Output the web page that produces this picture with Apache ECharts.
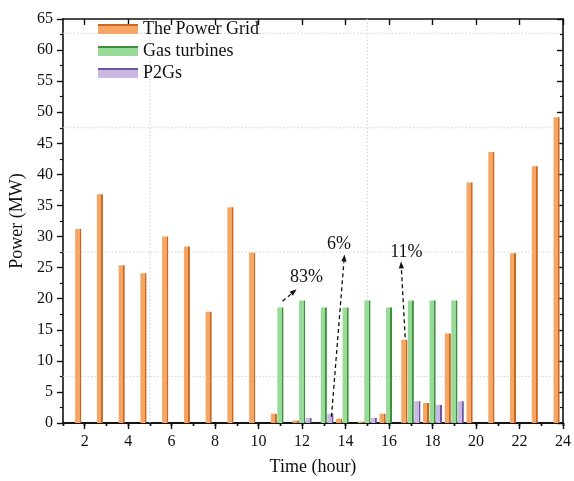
<!DOCTYPE html>
<html>
<head>
<meta charset="utf-8">
<script src="https://cdn.jsdelivr.net/npm/echarts@6/dist/echarts.min.js"></script>
<style>
  html, body { margin: 0; padding: 0; background: #fff; }
  #chart { width: 574px; height: 481px; }
</style>
</head>
<body>
<div id="chart"></div>
<script>
// Hourly dispatch data (MW)
const hours = ['1','2','3','4','5','6','7','8','9','10','11','12','13','14','15','16','17','18','19','20','21','22','23','24'];
const powerGrid = [null, 31.2, 36.8, 25.4, 24.1, 30.0, 28.4, 17.9, 34.7, 27.4, 1.5, 0.4, 0, 0.7, 0.2, 1.5, 13.4, 3.2, 14.4, 38.7, 43.6, 27.3, 41.3, 49.2];
const gasTurbines = [0, 0, 0, 0, 0, 0, 0, 0, 0, 0, 18.6, 19.7, 18.6, 18.6, 19.7, 18.6, 19.7, 19.7, 19.7, 0, 0, 0, 0, 0];
const p2gs = [0, 0, 0, 0, 0, 0, 0, 0, 0, 0, 0, 0.8, 1.5, 0, 0.8, 0, 3.5, 2.9, 3.5, 0, 0, 0, 0, 0];
const seriesNames = ['The Power Grid', 'Gas turbines', 'P2Gs'];
const yTicks = [0, 65, 5];          // min, max, step
const shareLabels = ['83%', '6%', '11%'];

// Placement of the share call-outs, in (hour, MW)
const callouts = [
  { text: [12.2, 23.4], from: [11.1, 19.6], to: [11.75, 21.5] },
  { text: [13.7, 28.7], from: [13.35, 1.0], to: [13.95, 27.1] },
  { text: [16.8, 27.4], from: [16.74, 13.8], to: [16.55, 26.0] }
];
const guideX = [5, 15];
const guideY = [7.5, 27.5, 47.5, 62.7];

const serif = 'Liberation Serif, Times New Roman, serif';
const palette = [
  { light: '#F6A664', dark: '#CC661E' },
  { light: '#98DA98', dark: '#3E8E3E' },
  { light: '#C8B8E2', dark: '#6C55A0' }
];

function barFill(p) {
  return new echarts.graphic.LinearGradient(0, 0, 1, 0, [
    { offset: 0, color: p.light }, { offset: 0.74, color: p.light },
    { offset: 0.74, color: p.dark }, { offset: 1, color: p.dark }
  ]);
}
function swatchFill(p) {
  return new echarts.graphic.LinearGradient(0, 0, 0, 1, [
    { offset: 0, color: p.dark }, { offset: 0.18, color: p.dark },
    { offset: 0.18, color: p.light }, { offset: 1, color: p.light }
  ]);
}

const chart = echarts.init(document.getElementById('chart'), null, { renderer: 'canvas' });

const axisLine = { show: true, lineStyle: { color: '#111', width: 1.6 } };
const isEven = (i, v) => Number(v) % 2 === 0;
const all = () => true;

function catAxis(position, tickFilter, len, inside, labels, extra) {
  return Object.assign({
    type: 'category', data: hours, boundaryGap: false, position: position,
    axisLine: axisLine,
    axisTick: { show: true, interval: tickFilter, length: len, inside: inside, lineStyle: { color: '#111', width: 1.4 } },
    axisLabel: labels ? { show: true, interval: isEven, margin: 11, fontFamily: serif, fontSize: 16, color: '#111' } : { show: false },
    splitLine: { show: false }
  }, extra || {});
}

const option = {
  animation: false,
  backgroundColor: '#fff',
  grid: { left: 62, right: 9, top: 19, bottom: 57, containLabel: false },
  legend: {
    orient: 'vertical', left: 98, top: 20, padding: 0,
    itemWidth: 40, itemHeight: 10, itemGap: 4,
    textStyle: { fontFamily: serif, fontSize: 18, color: '#111' },
    data: seriesNames.map((n, i) => ({ name: n, icon: 'rect', itemStyle: { color: swatchFill(palette[i]) } }))
  },
  xAxis: [
    catAxis('bottom', all, 3, false, true, {
      name: 'Time (hour)', nameLocation: 'middle', nameGap: 35,
      nameTextStyle: { fontFamily: serif, fontSize: 18, color: '#111' }
    }),
    catAxis('top', all, 3, true, false),
    catAxis('bottom', isEven, 6, false, false),
    catAxis('top', isEven, 6, true, false),
    { type: 'value', min: 1, max: 24, show: false }
  ],
  yAxis: [
    {
      type: 'value', min: yTicks[0], max: yTicks[1], interval: yTicks[2], position: 'left',
      name: 'Power (MW)', nameLocation: 'middle', nameGap: 21,
      nameTextStyle: { fontFamily: serif, fontSize: 18, color: '#111' },
      axisLine: axisLine,
      axisTick: { show: true, length: 6, inside: false, lineStyle: { color: '#111', width: 1.4 } },
      minorTick: { show: true, splitNumber: 2, length: 3, lineStyle: { color: '#111', width: 1.2 } },
      axisLabel: { margin: 10, fontFamily: serif, fontSize: 16, color: '#111' },
      splitLine: { show: false }
    },
    {
      type: 'value', min: yTicks[0], max: yTicks[1], interval: yTicks[2], position: 'right',
      axisLine: axisLine,
      axisTick: { show: true, length: 6, inside: true, lineStyle: { color: '#111', width: 1.4 } },
      minorTick: { show: true, splitNumber: 2, length: 3, lineStyle: { color: '#111', width: 1.2 } },
      axisLabel: { show: false },
      splitLine: { show: false }
    }
  ],
  series: [powerGrid, gasTurbines, p2gs].map((d, i) => ({
    name: seriesNames[i], type: 'bar', data: d,
    xAxisIndex: 0, yAxisIndex: 0,
    barWidth: 6, barGap: '8%',
    itemStyle: { color: barFill(palette[i]) },
    z: 3
  }))
};

chart.setOption(option);

// Dotted guide lines and share call-outs, placed through the axes
const toPx = (p) => chart.convertToPixel({ xAxisIndex: 4, yAxisIndex: 0 }, p);
const graphics = [];
const guideStyle = { stroke: '#cfcfcf', lineWidth: 1, lineDash: [1.5, 2] };
guideX.forEach((x) => {
  const a = toPx([x, yTicks[0]]), b = toPx([x, yTicks[1]]);
  graphics.push({ type: 'line', z: 1, silent: true, shape: { x1: a[0], y1: a[1], x2: b[0], y2: b[1] }, style: guideStyle });
});
guideY.forEach((y) => {
  const a = toPx([1, y]), b = toPx([24, y]);
  graphics.push({ type: 'line', z: 1, silent: true, shape: { x1: a[0], y1: a[1], x2: b[0], y2: b[1] }, style: guideStyle });
});
callouts.forEach((c, i) => {
  const f = toPx(c.from), t = toPx(c.to), p = toPx(c.text);
  const dx = t[0] - f[0], dy = t[1] - f[1];
  const len = Math.hypot(dx, dy), ux = dx / len, uy = dy / len;
  const head = 7, half = 2.6;
  const bx = t[0] - ux * head, by = t[1] - uy * head;
  graphics.push({ type: 'line', z: 10, silent: true,
    shape: { x1: f[0], y1: f[1], x2: bx, y2: by },
    style: { stroke: '#111', lineWidth: 1.3, lineDash: [4, 3] } });
  graphics.push({ type: 'polygon', z: 10, silent: true,
    shape: { points: [[t[0], t[1]], [bx - uy * half, by + ux * half], [bx + uy * half, by - ux * half]] },
    style: { fill: '#111' } });
  graphics.push({ type: 'text', z: 10, silent: true, x: p[0], y: p[1],
    style: { text: shareLabels[i], fontFamily: serif, fontSize: 18, fill: '#111', align: 'center', verticalAlign: 'middle' } });
});
chart.setOption({ graphic: graphics });
</script>
</body>
</html>
